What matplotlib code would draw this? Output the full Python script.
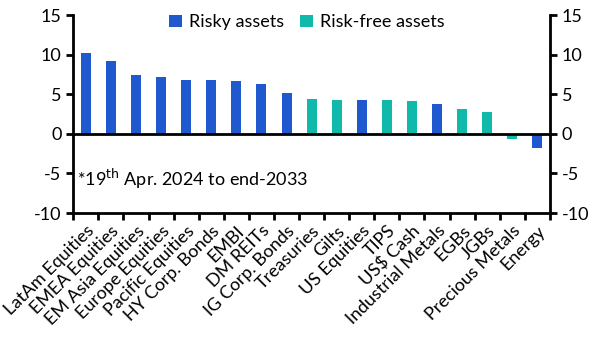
import matplotlib
matplotlib.use("Agg")
import matplotlib.pyplot as plt
import numpy as np

plt.rcParams['font.family'] = ['Lato', 'DejaVu Sans']
plt.rcParams['axes.unicode_minus'] = False

categories = ["LatAm Equities", "EMEA Equities", "EM Asia Equities", "Europe Equities",
              "Pacific Equities", "HY Corp. Bonds", "EMBI", "DM REITs", "IG Corp. Bonds",
              "Treasuries", "Gilts", "US Equities", "TIPS", "US$ Cash", "Industrial Metals",
              "EGBs", "JGBs", "Precious Metals", "Energy"]
values = [10.2, 9.2, 7.4, 7.2, 6.8, 6.8, 6.7, 6.3, 5.1,
          4.4, 4.3, 4.3, 4.3, 4.2, 3.8, 3.1, 2.7, -0.7, -1.8]
risky = [True] * 9 + [False, False, True, False, False, True, False, False, False, True]

blue = "#1f58cf"
teal = "#10b9a9"

fig, ax = plt.subplots(figsize=(6.01, 3.58), dpi=100)
fig.subplots_adjust(left=0.122, right=0.915, top=0.958, bottom=0.405)

x = np.arange(len(categories))
colors = [blue if r else teal for r in risky]
ax.bar(x, values, width=0.4, color=colors, zorder=3)

ax.set_xlim(-0.5, len(categories) - 0.5)
ax.set_ylim(-10, 15)
ax.set_yticks([-10, -5, 0, 5, 10, 15])
ax.axhline(0, color="black", lw=2, zorder=4)

ax.set_xticks(x)
ax.set_xticklabels(categories, rotation=45, ha="right", rotation_mode="anchor", fontsize=13)
ax.set_xticks(np.arange(-0.5, len(categories), 1), minor=True)
ax.tick_params(axis="x", which="major", length=0, pad=7)
ax.tick_params(axis="x", which="minor", length=5, width=2, direction="out")
ax.tick_params(axis="y", labelsize=13, length=5, width=2, direction="out",
               left=True, right=True, labelleft=True, labelright=True)

for s in ["left", "right", "bottom"]:
    ax.spines[s].set_linewidth(2)
ax.spines["top"].set_visible(False)

ax.bar([0], [0], color=blue, label="Risky assets")
ax.bar([0], [0], color=teal, label="Risk-free assets")
ax.legend(loc="upper center", bbox_to_anchor=(0.49, 1.085), ncol=2, frameon=False,
          fontsize=13, handlelength=0.7, handleheight=0.7, columnspacing=0.9, handletextpad=0.4)

ax.text(0.008, 0.11, "*19$^{\\rm th}$ Apr. 2024 to end-2033", transform=ax.transAxes,
        fontsize=13, va="bottom", ha="left")

fig.savefig("out.png", dpi=100)
